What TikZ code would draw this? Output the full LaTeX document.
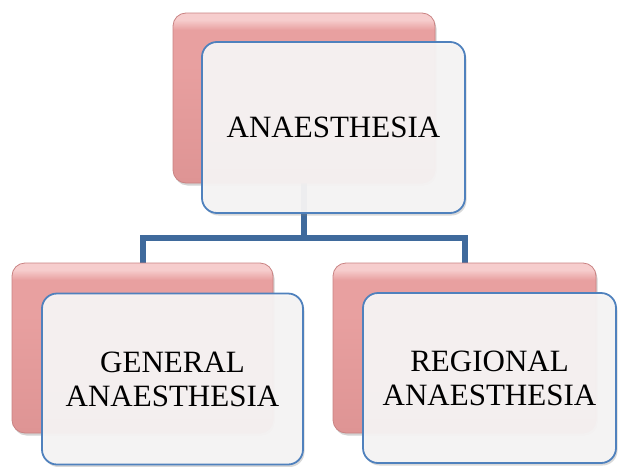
\documentclass[tikz,border=0pt]{standalone}
\usepackage{fontspec}
\setmainfont{Liberation Serif}
\usetikzlibrary{shadows,backgrounds}
\definecolor{pinkfill}{HTML}{E8A0A0}
\definecolor{pinkdark}{HTML}{DE9494}
\definecolor{pinktop}{HTML}{F6CDCD}
\definecolor{pinkedge}{HTML}{C98282}
\definecolor{cardfill}{HTML}{F7F5F5}
\definecolor{cardedge}{HTML}{4F81BD}
\definecolor{linkblue}{HTML}{3F6A9C}
% bevelled pink: light rim along the top, slightly darker toward the bottom
\pgfdeclareverticalshading{pinkbevel}{100bp}{
  color(0bp)=(pinkdark); color(25bp)=(pinkdark); color(60bp)=(pinkfill);
  color(70bp)=(pinkfill); color(73bp)=(pinktop); color(75bp)=(pinktop);
  color(100bp)=(pinktop)}
\tikzset{
  backcard/.style={draw=pinkedge, line width=0.8pt, rounded corners=13pt,
    shading=pinkbevel,
    drop shadow={opacity=0.35, shadow xshift=1.5pt, shadow yshift=-2.5pt},
    inner sep=0pt},
  frontcard/.style={draw=cardedge, line width=1.8pt, rounded corners=15pt,
    fill=cardfill, fill opacity=0.94, text opacity=1,
    drop shadow={opacity=0.3, shadow xshift=1.5pt, shadow yshift=-2.5pt},
    align=center, inner sep=0pt,
    font=\fontsize{31}{34}\selectfont},
  link/.style={draw=linkblue, line width=6pt}
}
\begin{document}
\begin{tikzpicture}[x=1pt,y=-1pt]
  \useasboundingbox (0,0) rectangle (618,466);
  % top level
  \node[backcard, minimum width=262pt, minimum height=170pt] (rootback) at (304,98) {};
  \node[frontcard, minimum width=263pt, minimum height=171pt] (root) at (333.5,127.5) {ANAESTHESIA};
  % left branch
  \node[backcard, minimum width=261pt, minimum height=170pt] (genback) at (142.5,348) {};
  \node[frontcard, minimum width=261pt, minimum height=171pt] (gen) at (172.5,379) {GENERAL\\ANAESTHESIA};
  % right branch
  \node[backcard, minimum width=263pt, minimum height=170pt] (regback) at (464.5,348) {};
  \node[frontcard, minimum width=253pt, minimum height=170pt] (reg) at (489.5,378) {REGIONAL\\ANAESTHESIA};
  % tree connectors behind the cards
  \begin{pgfonlayer}{background}
    \coordinate (bar) at (304,238);
    \draw[link] (rootback.south) -- (bar) -| (genback.north);
    \draw[link] (bar) -| (regback.north);
  \end{pgfonlayer}
\end{tikzpicture}
\end{document}
